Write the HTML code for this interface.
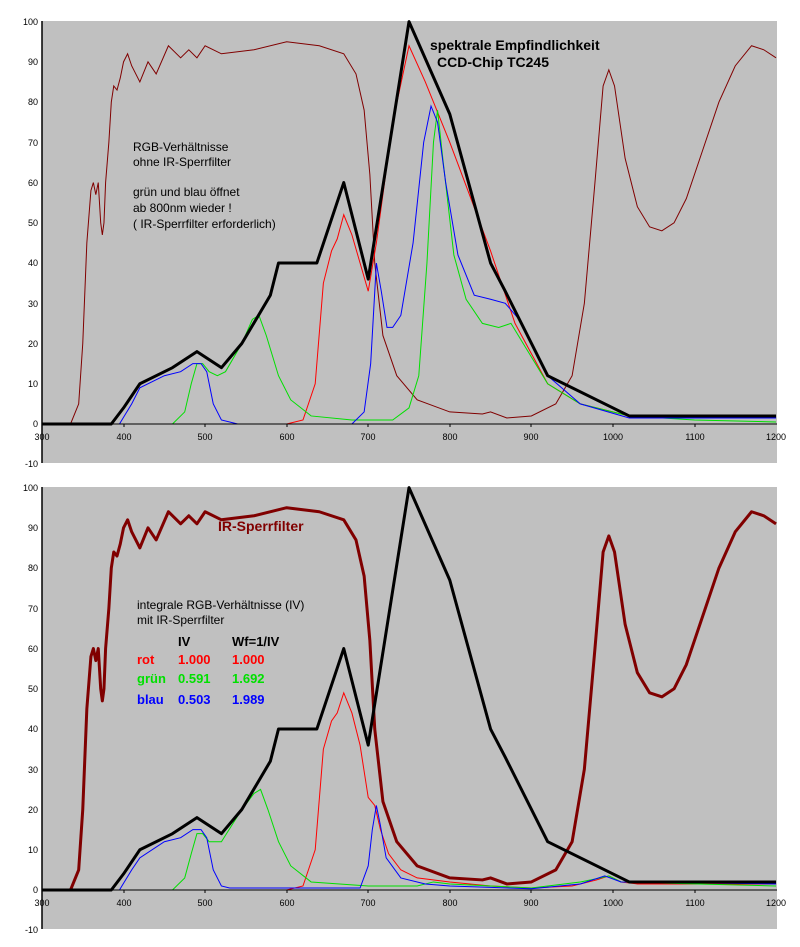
<!DOCTYPE html>
<html><head><meta charset="utf-8"><style>
html,body{margin:0;padding:0;background:#fff;}
svg{display:block;font-family:"Liberation Sans",Arial,sans-serif;}
</style></head><body>
<svg width="800" height="947" viewBox="0 0 800 947" xmlns="http://www.w3.org/2000/svg">
<defs>
<g id="black"><polyline fill="none" stroke="#000" stroke-width="3" vector-effect="non-scaling-stroke" stroke-linejoin="round" points="300,0 385,0 400,4 420,10 460,14 490,18 520,14 545,20 580,32 590,40 637,40 670,60 700,36 750,100 800,77 850,40 868,33 920,12 1020,2 1200,2"/></g>
</defs>

<!-- TOP CHART -->
<rect x="42" y="21" width="735" height="442" fill="#c0c0c0"/>
<g transform="translate(-202.7,424) scale(0.8156,-4.024)">
<polyline fill="none" stroke="#800000" stroke-width="1" vector-effect="non-scaling-stroke" points="300,0 335,0 345,5 350,20 355,45 360,58 363,60 366,57 369,60 372,50 374,47 376,50 378,60 382,70 385,80 388,84 392,83 396,86 400,90 405,92 410,89 420,85 430,90 440,87 455,94 470,91 480,93 490,91 500,94 520,92 560,93 600,95 640,94 670,92 685,87 695,78 702,62 708,40 718,22 735,12 760,6 800,3 840,2.5 850,3 870,1.5 900,2 930,5 950,12 965,30 978,60 988,84 995,88 1002,84 1015,66 1030,54 1045,49 1060,48 1075,50 1090,56 1110,68 1130,80 1150,89 1170,94 1185,93 1200,91"/>
<polyline fill="none" stroke="#ff0000" stroke-width="1" vector-effect="non-scaling-stroke" points="300,0 600,0 620,1 635,10 645,35 655,43 662,46 670,52 680,47 690,40 700,33 710,45 730,75 750,94 770,85 800,70 850,43 880,25 920,10 960,5 1020,2 1200,1.5"/>
<polyline fill="none" stroke="#00e000" stroke-width="1" vector-effect="non-scaling-stroke" points="300,0 460,0 475,3 483,10 490,15 497,15 505,13 515,12 525,13 545,20 558,26 566,27 575,22 590,12 605,6 630,2 680,1 730,1 750,4 762,12 772,40 780,70 785,78 792,65 805,42 820,31 840,25 860,24 875,25 890,20 920,10 960,5 1020,2 1100,1 1200,0.5"/>
<polyline fill="none" stroke="#0000ff" stroke-width="1" vector-effect="non-scaling-stroke" points="300,0 395,0 410,5 420,9 450,12 470,13 485,15 495,15 502,13 510,5 520,1 540,0 680,0 695,3 703,15 710,40 716,33 723,24 730,24 740,27 755,45 768,70 777,79 785,75 795,60 810,42 830,32 850,31 868,30 885,26 920,12 960,5 1020,1.5 1200,1.5"/>
<use href="#black"/>
</g>
<!-- axes top -->
<line x1="42" y1="21" x2="42" y2="463" stroke="#000" stroke-width="1.5"/>
<line x1="42" y1="424" x2="777" y2="424" stroke="#000" stroke-width="1"/>
<g font-size="9" text-anchor="end" fill="#000">
<text x="38" y="25">100</text><text x="38" y="65">90</text><text x="38" y="105">80</text><text x="38" y="146">70</text><text x="38" y="186">60</text><text x="38" y="226">50</text><text x="38" y="266">40</text><text x="38" y="307">30</text><text x="38" y="347">20</text><text x="38" y="387">10</text><text x="38" y="427">0</text><text x="38" y="467">-10</text>
</g>
<g font-size="9" text-anchor="middle" fill="#000">
<text x="42" y="440">300</text><text x="124" y="440">400</text><text x="205" y="440">500</text><text x="287" y="440">600</text><text x="368" y="440">700</text><text x="450" y="440">800</text><text x="531" y="440">900</text><text x="613" y="440">1000</text><text x="695" y="440">1100</text><text x="776" y="440">1200</text>
</g>
<g stroke="#000"><line x1="124" y1="424" x2="124" y2="427"/><line x1="205" y1="424" x2="205" y2="427"/><line x1="287" y1="424" x2="287" y2="427"/><line x1="368" y1="424" x2="368" y2="427"/><line x1="450" y1="424" x2="450" y2="427"/><line x1="531" y1="424" x2="531" y2="427"/><line x1="613" y1="424" x2="613" y2="427"/><line x1="695" y1="424" x2="695" y2="427"/></g>
<g font-size="12" fill="#000">
<text x="133" y="151">RGB-Verhältnisse</text>
<text x="133" y="166">ohne IR-Sperrfilter</text>
<text x="133" y="196">grün und blau öffnet</text>
<text x="133" y="212">ab 800nm wieder !</text>
<text x="133" y="228">( IR-Sperrfilter erforderlich)</text>
</g>
<g font-size="14" font-weight="bold" fill="#000">
<text x="430" y="50">spektrale Empfindlichkeit</text>
<text x="437" y="67">CCD-Chip TC245</text>
</g>

<!-- BOTTOM CHART -->
<rect x="42" y="487" width="735" height="442" fill="#c0c0c0"/>
<g transform="translate(-202.7,890) scale(0.8156,-4.024)">
<polyline fill="none" stroke="#ff0000" stroke-width="1" vector-effect="non-scaling-stroke" points="300,0 600,0 620,1 635,10 645,35 655,42 662,44 670,49 680,44 690,36 700,23 708,21 715,15 725,9 740,5 760,3 800,2 850,1 900,0.5 950,1 980,2.5 995,3.5 1010,2 1030,1.5 1200,1.5"/>
<polyline fill="none" stroke="#00e000" stroke-width="1" vector-effect="non-scaling-stroke" points="300,0 460,0 475,3 483,9 490,14 497,14 505,12 520,12 545,20 560,24 568,25 577,20 590,12 605,6 630,2 700,1 760,1 780,2 800,1.5 900,0.5 960,2 985,3 995,3.5 1010,2 1200,1"/>
<polyline fill="none" stroke="#0000ff" stroke-width="1" vector-effect="non-scaling-stroke" points="300,0 395,0 410,5 420,8 450,12 470,13 485,15 495,15 502,13 510,5 520,1 530,0.5 690,0.5 700,6 705,15 710,21 715,16 722,8 740,3 770,1.5 800,1 900,0.3 960,1.5 990,3.5 1010,2 1200,1.5"/>
<polyline fill="none" stroke="#800000" stroke-width="3" vector-effect="non-scaling-stroke" stroke-linejoin="round" points="300,0 335,0 345,5 350,20 355,45 360,58 363,60 366,57 369,60 372,50 374,47 376,50 378,60 382,70 385,80 388,84 392,83 396,86 400,90 405,92 410,89 420,85 430,90 440,87 455,94 470,91 480,93 490,91 500,94 520,92 560,93 600,95 640,94 670,92 685,87 695,78 702,62 708,40 718,22 735,12 760,6 800,3 840,2.5 850,3 870,1.5 900,2 930,5 950,12 965,30 978,60 988,84 995,88 1002,84 1015,66 1030,54 1045,49 1060,48 1075,50 1090,56 1110,68 1130,80 1150,89 1170,94 1185,93 1200,91"/>
<use href="#black"/>
</g>
<line x1="42" y1="487" x2="42" y2="929" stroke="#000" stroke-width="1.5"/>
<line x1="42" y1="890" x2="777" y2="890" stroke="#000" stroke-width="1"/>
<g font-size="9" text-anchor="end" fill="#000">
<text x="38" y="491">100</text><text x="38" y="531">90</text><text x="38" y="571">80</text><text x="38" y="612">70</text><text x="38" y="652">60</text><text x="38" y="692">50</text><text x="38" y="732">40</text><text x="38" y="773">30</text><text x="38" y="813">20</text><text x="38" y="853">10</text><text x="38" y="893">0</text><text x="38" y="933">-10</text>
</g>
<g font-size="9" text-anchor="middle" fill="#000">
<text x="42" y="906">300</text><text x="124" y="906">400</text><text x="205" y="906">500</text><text x="287" y="906">600</text><text x="368" y="906">700</text><text x="450" y="906">800</text><text x="531" y="906">900</text><text x="613" y="906">1000</text><text x="695" y="906">1100</text><text x="776" y="906">1200</text>
</g>
<g stroke="#000"><line x1="124" y1="890" x2="124" y2="893"/><line x1="205" y1="890" x2="205" y2="893"/><line x1="287" y1="890" x2="287" y2="893"/><line x1="368" y1="890" x2="368" y2="893"/><line x1="450" y1="890" x2="450" y2="893"/><line x1="531" y1="890" x2="531" y2="893"/><line x1="613" y1="890" x2="613" y2="893"/><line x1="695" y1="890" x2="695" y2="893"/></g>
<text x="218" y="531" font-size="14" font-weight="bold" fill="#800000">IR-Sperrfilter</text>
<g font-size="12" fill="#000">
<text x="137" y="609">integrale RGB-Verhältnisse (IV)</text>
<text x="137" y="624">mit IR-Sperrfilter</text>
</g>
<g font-size="13" font-weight="bold">
<text x="178" y="646" fill="#000">IV</text><text x="232" y="646" fill="#000">Wf=1/IV</text>
<text x="137" y="664" fill="#ff0000">rot</text><text x="178" y="664" fill="#ff0000">1.000</text><text x="232" y="664" fill="#ff0000">1.000</text>
<text x="137" y="683" fill="#00e000">grün</text><text x="178" y="683" fill="#00e000">0.591</text><text x="232" y="683" fill="#00e000">1.692</text>
<text x="137" y="704" fill="#0000ff">blau</text><text x="178" y="704" fill="#0000ff">0.503</text><text x="232" y="704" fill="#0000ff">1.989</text>
</g>
</svg>
</body></html>
